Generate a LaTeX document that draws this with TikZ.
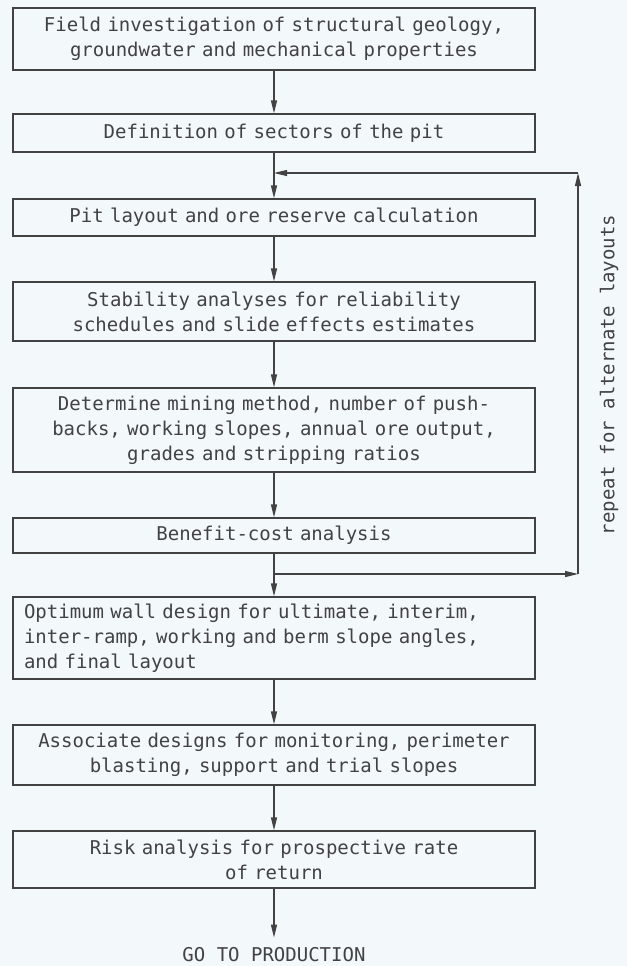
\documentclass[tikz,border=0pt]{standalone}
\usepackage{fontspec}
\setmonofont{DejaVu Sans Mono}
\usetikzlibrary{arrows.meta}

\definecolor{paper}{RGB}{243,248,251}
\definecolor{ink}{RGB}{66,66,66}

\begin{document}
\begin{tikzpicture}[x=1pt,y=-1pt]%[scale=1]
        \tikzstyle{every node}= [font=\ttfamily\fontsize{19}{25}\selectfont, text=ink];
        \tikzstyle{box}= [draw=ink, line width=1.2pt, minimum width=522pt, text width=500pt,
                          inner xsep=11pt, inner ysep=0pt, align=center];
        \tikzstyle{arr}= [draw=ink, line width=1.2pt, -{Triangle[length=13pt,width=6pt]}];

          \fill[paper] (0,0) rectangle (627,966);
          \useasboundingbox (0,0) rectangle (627,966);

          \node[box, minimum height=62pt](f1) at (274,39) {Field investigation of structural geology,\\groundwater and mechanical properties};
          \node[box, minimum height=38pt](f2) at (274,133) {Definition of sectors of the pit};
          \node[box, minimum height=37pt](f3) at (274,217.5) {Pit layout and ore reserve calculation};
          \node[box, minimum height=59pt](f4) at (274,311.5) {Stability analyses for reliability\\schedules and slide effects estimates};
          \node[box, minimum height=84pt](f5) at (274,430) {Determine mining method, number of push-\\backs, working slopes, annual ore output,\\grades and stripping ratios};
          \node[box, minimum height=35pt](f6) at (274,535.5) {Benefit-cost analysis};
          \node[box, minimum height=82pt, align=left](f7) at (274,638) {Optimum wall design for ultimate, interim,\\inter-ramp, working and berm slope angles,\\and final layout};
          \node[box, minimum height=60pt](f8) at (274,755) {Associate designs for monitoring, perimeter\\blasting, support and trial slopes};
          \node[box, minimum height=57pt](f9) at (274,859.5) {Risk analysis for prospective rate\\of return};
          \node[inner sep=0pt](prod) at (274,955) {GO TO PRODUCTION};

          \foreach \a/\b in {f1/f2,f2/f3,f3/f4,f4/f5,f5/f6,f6/f7,f7/f8,f8/f9}{
            \draw[arr] (\a) -- (\b);
          }
          \draw[arr, shorten >=10pt] (f9) -- (prod);

          % loop back for alternate layouts
          \coordinate (merge) at (274,173);
          \coordinate (split) at (274,574);
          \coordinate (looptop) at (578,173);
          \coordinate (loopbot) at (578,574);
          \draw[arr] (split) -- (loopbot);
          \draw[arr] (loopbot) -- (looptop);
          \draw[arr] (looptop) -- (merge);

          \node[rotate=90](repeat) at (609,375) {repeat for alternate layouts};
      \end{tikzpicture}
\end{document}
